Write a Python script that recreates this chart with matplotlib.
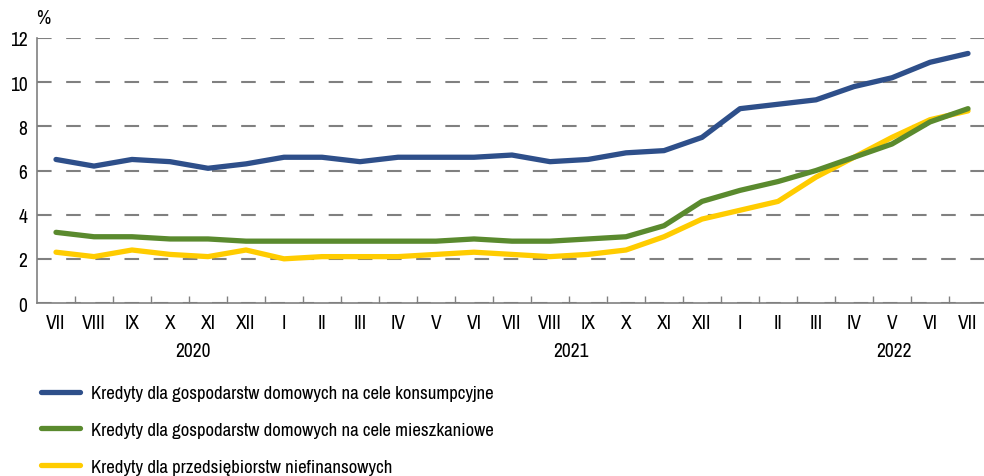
import matplotlib
matplotlib.use("Agg")
import matplotlib.pyplot as plt

plt.rcParams['font.family'] = ['Liberation Sans Narrow', 'Archivo Narrow', 'Liberation Sans', 'DejaVu Sans']

months = ["VII", "VIII", "IX", "X", "XI", "XII", "I", "II", "III", "IV", "V", "VI",
          "VII", "VIII", "IX", "X", "XI", "XII", "I", "II", "III", "IV", "V", "VI", "VII"]
years = ["2020", "2021", "2022"]
year_pos = [3.6, 13.55, 22.05]

konsumpcyjne = [6.5, 6.2, 6.5, 6.4, 6.1, 6.3, 6.6, 6.6, 6.4, 6.6, 6.6, 6.6,
                6.7, 6.4, 6.5, 6.8, 6.9, 7.5, 8.8, 9.0, 9.2, 9.8, 10.2, 10.9, 11.3]
mieszkaniowe = [3.2, 3.0, 3.0, 2.9, 2.9, 2.8, 2.8, 2.8, 2.8, 2.8, 2.8, 2.9,
                2.8, 2.8, 2.9, 3.0, 3.5, 4.6, 5.1, 5.5, 6.0, 6.6, 7.2, 8.2, 8.8]
przedsiebiorstwa = [2.3, 2.1, 2.4, 2.2, 2.1, 2.4, 2.0, 2.1, 2.1, 2.1, 2.2, 2.3,
                    2.2, 2.1, 2.2, 2.4, 3.0, 3.8, 4.2, 4.6, 5.7, 6.6, 7.5, 8.3, 8.7]

labels = ["Kredyty dla gospodarstw domowych na cele konsumpcyjne",
          "Kredyty dla gospodarstw domowych na cele mieszkaniowe",
          "Kredyty dla przedsiębiorstw niefinansowych"]
colors = ["#2E4F8A", "#5A8A2E", "#FFCC00"]
zorders = [5, 4, 3]

W, H = 984, 477
fig = plt.figure(figsize=(W / 100, H / 100), dpi=100)
ax = fig.add_axes([37 / W, (H - 304) / H, (987 - 37) / W, (304 - 39) / H])

x = list(range(len(months)))
series = [konsumpcyjne, mieszkaniowe, przedsiebiorstwa]
for s, c, lab, z in zip(series, colors, labels, zorders):
    ax.plot(x, s, color=c, lw=3.8, solid_capstyle="round", label=lab, zorder=z)

ax.set_xlim(-0.5, len(months) - 0.5)
ax.set_ylim(0, 12)
ax.set_yticks(range(0, 13, 2))
ax.tick_params(axis="y", length=0, pad=7, labelsize=14)
ax.set_xticks([i + 0.5 for i in range(len(months) - 1)])
ax.set_xticklabels([])
ax.tick_params(axis="x", direction="in", length=5, color="#808080", width=1)
ax.set_xticks(x, minor=True)
ax.set_xticklabels(months, minor=True)
ax.tick_params(axis="x", which="minor", length=0, pad=7, labelsize=14)

ax.grid(axis="y", color="#808080", lw=1.5, dashes=(7, 7))
ax.set_axisbelow(True)
for sp in ["top", "right"]:
    ax.spines[sp].set_visible(False)
for sp in ["left", "bottom"]:
    ax.spines[sp].set_color("#808080")
    ax.spines[sp].set_linewidth(1.2)

for yr, p in zip(years, year_pos):
    ax.text(p, -2.15, yr, ha="center", va="center", fontsize=14,
            transform=ax.transData, clip_on=False)

fig.text(43 / W, 1 - 18 / H, "%", ha="center", va="center", fontsize=14)

handles, labs = ax.get_legend_handles_labels()
fig.legend(handles, labs, loc="upper left", bbox_to_anchor=(41 / W, 1 - 386 / H),
           frameon=False, fontsize=13.5, handlelength=2.1, handletextpad=0.55,
           labelspacing=1.1, borderaxespad=0, borderpad=0)

fig.savefig("out.png", dpi=100)
